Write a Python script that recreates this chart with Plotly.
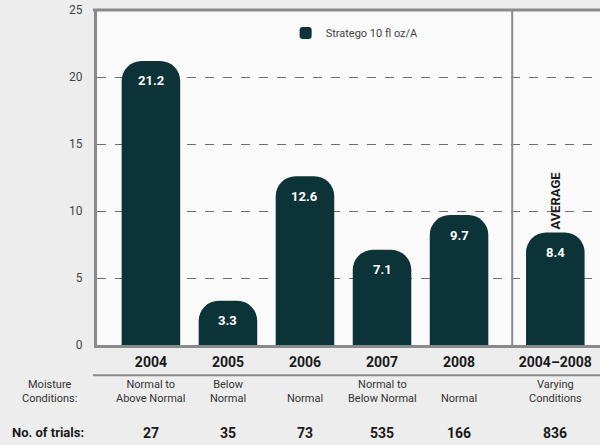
import plotly.graph_objects as go

years = ["2004", "2005", "2006", "2007", "2008", "2004–2008"]
x_pos = [0, 1, 2, 3, 4, 5.25]
values = [21.2, 3.3, 12.6, 7.1, 9.7, 8.4]
value_labels = ["21.2", "3.3", "12.6", "7.1", "9.7", "8.4"]
moisture = ["Normal to<br>Above Normal", "Below<br>Normal", "Normal",
            "Normal to<br>Below Normal", "Normal", "Varying<br>Conditions"]
trials = ["27", "35", "73", "535", "166", "836"]
y_ticks = [0, 5, 10, 15, 20, 25]
series_name = "Stratego 10 fl oz/A"

BAR = "#0c3338"
GRAY = "#8a8a8a"
FONT = "Roboto, Liberation Sans, sans-serif"

fig = go.Figure()
fig.add_trace(go.Bar(
    x=x_pos, y=values, width=0.76, name=series_name,
    marker=dict(color=BAR, cornerradius=20, line=dict(width=0)),
    showlegend=True, hoverinfo="skip",
))

annotations = []
for xp, v, lab in zip(x_pos, values, value_labels):
    annotations.append(dict(x=xp, y=v, text="<b>%s</b>" % lab, showarrow=False,
                            yshift=-20, font=dict(color="white", size=13, family=FONT)))
for xp, m in zip(x_pos, moisture):
    annotations.append(dict(x=xp, y=-0.186, yref="paper", text=m, showarrow=False,
                            yanchor="bottom", font=dict(color="#333", size=11, family=FONT)))
for xp, t in zip(x_pos, trials):
    annotations.append(dict(x=xp, y=-0.262, yref="paper", text="<b>%s</b>" % t, showarrow=False,
                            yanchor="middle", font=dict(color="#1a1a1a", size=14, family=FONT)))
annotations.append(dict(x=-0.095, xref="paper", y=-0.186, yref="paper",
                        text="Moisture<br>Conditions:", showarrow=False, yanchor="bottom",
                        xanchor="center", font=dict(color="#333", size=11, family=FONT)))
annotations.append(dict(x=-0.097, xref="paper", y=-0.262, yref="paper",
                        text="<b>No. of trials:</b>", showarrow=False, yanchor="middle",
                        xanchor="center", font=dict(color="#1a1a1a", size=13, family=FONT)))
annotations.append(dict(x=x_pos[-1], y=10.8, text="<b>AVERAGE</b>", showarrow=False,
                        textangle=-90, font=dict(color="#1a1a1a", size=13, family=FONT)))

shapes = [
    dict(type="line", xref="x", yref="paper", x0=4.69, x1=4.69, y0=0, y1=1,
         line=dict(color=GRAY, width=2)),
    dict(type="line", xref="paper", yref="paper", x0=-0.008, x1=1, y0=1, y1=1,
         line=dict(color=GRAY, width=3)),
    dict(type="line", xref="paper", yref="paper", x0=-0.008, x1=1, y0=-0.09, y1=-0.09,
         line=dict(color=GRAY, width=2)),
]

fig.update_layout(
    width=600, height=445,
    margin=dict(l=97, r=0, t=10, b=100),
    paper_bgcolor="#ededed", plot_bgcolor="#fafafa",
    font=dict(family=FONT, color="#333"),
    bargap=0.2,
    xaxis=dict(range=[-0.7, 5.83], tickvals=x_pos,
               ticktext=["<b>%s</b>" % y for y in years],
               tickfont=dict(size=14, color="#1a1a1a", family=FONT),
               showgrid=False, zeroline=False, showline=True, linecolor=GRAY, linewidth=3,
               ticks="", ticklabelstandoff=2, fixedrange=True),
    yaxis=dict(range=[0, 25], tickvals=y_ticks, showgrid=True, gridcolor="#6e6e6e",
               griddash="dash", gridwidth=1.2, zeroline=False, showline=True,
               linecolor=GRAY, linewidth=3, ticks="", ticklabelstandoff=9,
               tickfont=dict(size=12, color="#444", family=FONT), fixedrange=True),
    legend=dict(x=0.375, y=0.975, xanchor="left", yanchor="top", bgcolor="rgba(0,0,0,0)",
                font=dict(size=11, color="#444", family=FONT)),
    annotations=annotations, shapes=shapes,
)

fig.write_html("out.html", config={"displayModeBar": False},
               post_script="document.body.style.margin='0';document.body.style.overflow='hidden';")
